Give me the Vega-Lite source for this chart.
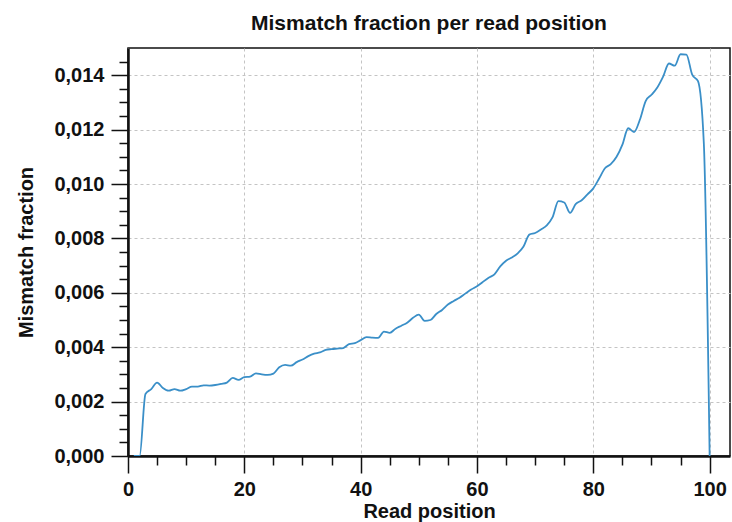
{
  "$schema": "https://vega.github.io/schema/vega-lite/v6.json",
  "autosize": {"type": "none"},
  "padding": {"left": 128, "top": 48, "right": 2, "bottom": 66},
  "width": 602,
  "height": 408,
  "background": "white",
  "title": {
    "text": "Mismatch fraction per read position",
    "font": "Liberation Sans",
    "fontSize": 21,
    "fontWeight": "bold",
    "color": "#111",
    "anchor": "middle",
    "offset": 14
  },
  "data": {
    "values": [
      {"pos": 1, "frac": 0}, {"pos": 2, "frac": 0}, {"pos": 3, "frac": 0.00228}, {"pos": 4, "frac": 0.00246},
      {"pos": 5, "frac": 0.0027}, {"pos": 6, "frac": 0.0025}, {"pos": 7, "frac": 0.0024}, {"pos": 8, "frac": 0.00246},
      {"pos": 9, "frac": 0.0024}, {"pos": 10, "frac": 0.00246}, {"pos": 11, "frac": 0.00255}, {"pos": 12, "frac": 0.00255},
      {"pos": 13, "frac": 0.0026}, {"pos": 14, "frac": 0.00259}, {"pos": 15, "frac": 0.00261}, {"pos": 16, "frac": 0.00265},
      {"pos": 17, "frac": 0.0027}, {"pos": 18, "frac": 0.00287}, {"pos": 19, "frac": 0.0028}, {"pos": 20, "frac": 0.0029},
      {"pos": 21, "frac": 0.00292}, {"pos": 22, "frac": 0.00304}, {"pos": 23, "frac": 0.003}, {"pos": 24, "frac": 0.00298},
      {"pos": 25, "frac": 0.00303}, {"pos": 26, "frac": 0.00326}, {"pos": 27, "frac": 0.00335}, {"pos": 28, "frac": 0.00332},
      {"pos": 29, "frac": 0.00345}, {"pos": 30, "frac": 0.00355}, {"pos": 31, "frac": 0.00367}, {"pos": 32, "frac": 0.00376},
      {"pos": 33, "frac": 0.00381}, {"pos": 34, "frac": 0.0039}, {"pos": 35, "frac": 0.00393}, {"pos": 36, "frac": 0.00395},
      {"pos": 37, "frac": 0.00397}, {"pos": 38, "frac": 0.00411}, {"pos": 39, "frac": 0.00415}, {"pos": 40, "frac": 0.00426},
      {"pos": 41, "frac": 0.00437}, {"pos": 42, "frac": 0.00435}, {"pos": 43, "frac": 0.00434}, {"pos": 44, "frac": 0.00457},
      {"pos": 45, "frac": 0.00453}, {"pos": 46, "frac": 0.00468}, {"pos": 47, "frac": 0.00479}, {"pos": 48, "frac": 0.0049},
      {"pos": 49, "frac": 0.00508}, {"pos": 50, "frac": 0.0052}, {"pos": 51, "frac": 0.00497}, {"pos": 52, "frac": 0.005},
      {"pos": 53, "frac": 0.00522}, {"pos": 54, "frac": 0.00537}, {"pos": 55, "frac": 0.00557}, {"pos": 56, "frac": 0.0057},
      {"pos": 57, "frac": 0.00582}, {"pos": 58, "frac": 0.00597}, {"pos": 59, "frac": 0.00612}, {"pos": 60, "frac": 0.00624},
      {"pos": 61, "frac": 0.0064}, {"pos": 62, "frac": 0.00655}, {"pos": 63, "frac": 0.00668}, {"pos": 64, "frac": 0.00697},
      {"pos": 65, "frac": 0.00718}, {"pos": 66, "frac": 0.0073}, {"pos": 67, "frac": 0.00745}, {"pos": 68, "frac": 0.0077},
      {"pos": 69, "frac": 0.00814}, {"pos": 70, "frac": 0.0082}, {"pos": 71, "frac": 0.00833}, {"pos": 72, "frac": 0.00848},
      {"pos": 73, "frac": 0.00878}, {"pos": 74, "frac": 0.00937}, {"pos": 75, "frac": 0.00932}, {"pos": 76, "frac": 0.00894},
      {"pos": 77, "frac": 0.00927}, {"pos": 78, "frac": 0.0094}, {"pos": 79, "frac": 0.00962}, {"pos": 80, "frac": 0.00984},
      {"pos": 81, "frac": 0.0102}, {"pos": 82, "frac": 0.01058}, {"pos": 83, "frac": 0.01073}, {"pos": 84, "frac": 0.011},
      {"pos": 85, "frac": 0.01145}, {"pos": 86, "frac": 0.01205}, {"pos": 87, "frac": 0.01191}, {"pos": 88, "frac": 0.01236},
      {"pos": 89, "frac": 0.01305}, {"pos": 90, "frac": 0.01328}, {"pos": 91, "frac": 0.01355}, {"pos": 92, "frac": 0.01395},
      {"pos": 93, "frac": 0.01443}, {"pos": 94, "frac": 0.01435}, {"pos": 95, "frac": 0.01477}, {"pos": 96, "frac": 0.01476},
      {"pos": 97, "frac": 0.01402}, {"pos": 98, "frac": 0.01378}, {"pos": 99, "frac": 0.0115}, {"pos": 100, "frac": 0}
    ]
  },
  "mark": {"type": "line", "color": "#3a8fc8", "strokeWidth": 1.8, "interpolate": "monotone", "clip": true},
  "encoding": {
    "x": {
      "field": "pos",
      "type": "quantitative",
      "scale": {"domain": [0, 103.5], "nice": false, "zero": false},
      "axis": {
        "title": "Read position",
        "values": [0, 5, 10, 15, 20, 25, 30, 35, 40, 45, 50, 55, 60, 65, 70, 75, 80, 85, 90, 95, 100],
        "labelExpr": "datum.value % 20 === 0 ? datum.label : ''",
        "format": "d",
        "tickSize": {"condition": {"test": "datum.value % 20 === 0", "value": 17}, "value": 9},
        "gridOpacity": {"condition": {"test": "datum.value % 20 === 0", "value": 1}, "value": 0},
        "labelPadding": 6,
        "titlePadding": 2
      }
    },
    "y": {
      "field": "frac",
      "type": "quantitative",
      "scale": {"domain": [0, 0.015], "nice": false},
      "axis": {
        "title": "Mismatch fraction",
        "values": [0, 0.0005, 0.001, 0.0015, 0.002, 0.0025, 0.003, 0.0035, 0.004, 0.0045, 0.005, 0.0055, 0.006, 0.0065, 0.007, 0.0075, 0.008, 0.0085, 0.009, 0.0095, 0.01, 0.0105, 0.011, 0.0115, 0.012, 0.0125, 0.013, 0.0135, 0.014, 0.0145],
        "labelExpr": "abs(datum.value / 0.002 - round(datum.value / 0.002)) < 0.001 ? replace(format(datum.value, '.3f'), '.', ',') : ''",
        "tickSize": {"condition": {"test": "abs(datum.value / 0.002 - round(datum.value / 0.002)) < 0.001", "value": 17}, "value": 9},
        "gridOpacity": {"condition": {"test": "abs(datum.value / 0.002 - round(datum.value / 0.002)) < 0.001", "value": 1}, "value": 0},
        "labelPadding": 7,
        "titlePadding": 17
      }
    }
  },
  "config": {
    "view": {"stroke": "#111", "strokeWidth": 1.5},
    "axis": {
      "grid": true,
      "gridColor": "#c4c4c4",
      "gridDash": [3, 3],
      "gridWidth": 1,
      "domainColor": "#111",
      "domainWidth": 2.5,
      "tickColor": "#111",
      "tickWidth": 1.5,
      "labelFont": "Liberation Sans",
      "labelFontSize": 20,
      "labelFontWeight": "bold",
      "labelColor": "#111",
      "labelFlush": false,
      "labelOverlap": false,
      "titleFont": "Liberation Sans",
      "titleFontSize": 20,
      "titleFontWeight": "bold",
      "titleColor": "#111"
    }
  }
}
